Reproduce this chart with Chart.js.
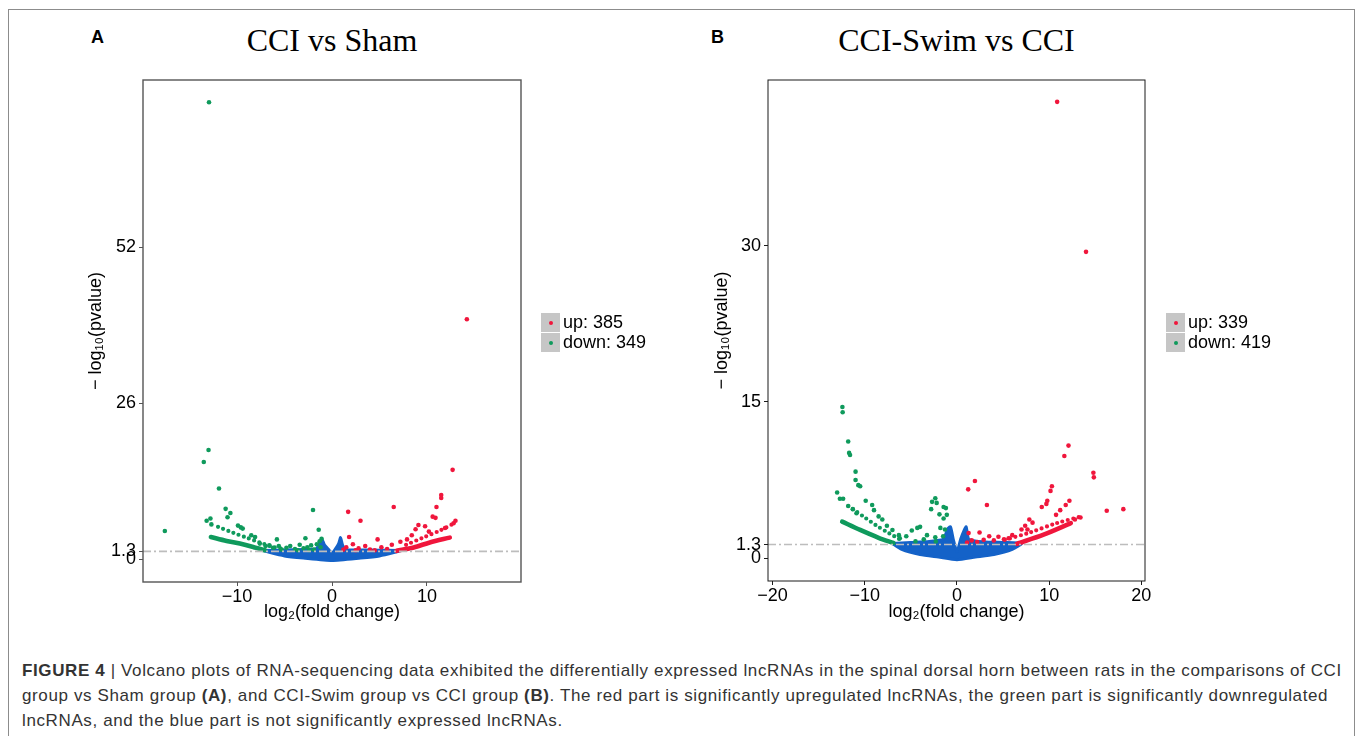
<!DOCTYPE html>
<html>
<head>
<meta charset="utf-8">
<script src="https://cdn.jsdelivr.net/npm/chart.js@4.4.1/dist/chart.umd.min.js"></script>
<style>
  body { margin: 0; background: #fff; width: 1360px; height: 736px; overflow: hidden; position: relative; font-family: "Liberation Sans", Arial, sans-serif; }
  #frame { position: absolute; left: 8px; top: 9px; width: 1345px; height: 800px; border: 1px solid #8c8c8c; }
  canvas { position: absolute; top: 0; }
  .tag { position: absolute; font: bold 18px "Liberation Sans", Arial, sans-serif; line-height: 18px; }
  .title { position: absolute; text-align: center; font: 32px "Liberation Serif", "Times New Roman", serif; line-height: 32px; color: #000; }
  .legend { position: absolute; font-size: 18px; color: #000; }
  .legend .row { height: 19px; margin-bottom: 1px; display: flex; align-items: center; white-space: nowrap; }
  .legend .key { width: 19px; height: 19px; background: #c6c6c6; position: relative; margin-right: 3px; }
  .legend .key i { position: absolute; left: 7.5px; top: 7.5px; width: 4px; height: 4px; border-radius: 2px; }
  .caption { position: absolute; left: 22px; top: 658px; font-size: 17px; letter-spacing: 0.62px; line-height: 25px; color: #333; white-space: nowrap; }
</style>
</head>
<body>
<div id="frame"></div>
<div class="tag" style="left:91px; top:28px">A</div>
<div class="tag" style="left:711px; top:28px">B</div>
<div class="title" style="left:143px; width:378px; top:24px">CCI vs Sham</div>
<div class="title" style="left:768px; width:377px; top:24px">CCI-Swim vs CCI</div>
<canvas id="chartA" width="620" height="640" style="left:0"></canvas>
<canvas id="chartB" width="700" height="640" style="left:620px"></canvas>
<div class="legend" style="left:541px; top:313px">
  <div class="row"><span class="key"><i style="background:#f0163c"></i></span>up: 385</div>
  <div class="row"><span class="key"><i style="background:#0f9a5c"></i></span>down: 349</div>
</div>
<div class="legend" style="left:1166px; top:313px">
  <div class="row"><span class="key"><i style="background:#f0163c"></i></span>up: 339</div>
  <div class="row"><span class="key"><i style="background:#0f9a5c"></i></span>down: 419</div>
</div>
<div class="caption"><b>FIGURE 4</b> | Volcano plots of RNA-sequencing data exhibited the differentially expressed lncRNAs in the spinal dorsal horn between rats in the comparisons of CCI<br>group vs Sham group <b>(A)</b>, and CCI-Swim group vs CCI group <b>(B)</b>. The red part is significantly upregulated lncRNAs, the green part is significantly downregulated<br>lncRNAs, and the blue part is not significantly expressed lncRNAs.</div>

<script>
const RED = '#f0163c';
const GREEN = '#0f9a5c';
const BLUE = '#1462c8';
const threshold = 1.3;

// ---- panel A: CCI vs Sham ----
const xRangeA = [-19.9, 19.9];
const yRangeA = [-3.8, 79.9];
const xTicksA = [-10, 0, 10];
const yTicksA = [0, 1.3, 26, 52];

const downXA = [-12.95, -13.0, -13.5, -11.9, -11.2, -10.7, -11.0, -12.8, -13.2, -12.7, -17.6, -9.9, -9.4, -9.6, -2.0, -1.4, -1.1, -8.5, -8.1, -5.8, -2.8, -3.4, -4.4, -1.3, -1.6, -2.2, -2.6, -3.0, -3.9, -4.8, -5.3, -6.2, -6.6, -7.0, -7.6, -1.9, -1.2, -5.6, -3.6, -2.4];
const downYA = [76.2, 18.2, 16.2, 11.8, 8.4, 7.7, 7.0, 6.8, 6.4, 5.8, 4.7, 5.6, 5.1, 5.3, 8.2, 4.9, 3.4, 4.0, 3.7, 3.3, 3.5, 2.4, 2.2, 3.0, 2.5, 2.3, 2.0, 1.8, 1.7, 1.9, 1.6, 1.9, 2.3, 2.2, 2.6, 1.6, 2.0, 2.2, 1.5, 1.5];
const upXA = [14.2, 1.7, 3.0, 6.5, 12.7, 11.5, 11.5, 11.0, 10.6, 10.9, 13.0, 12.8, 1.8, 4.8, 9.8, 8.8, 9.1, 2.2, 1.5, 2.8, 3.5, 4.0, 5.2, 5.8, 6.3, 7.2, 7.9, 8.4, 10.2, 11.9, 1.2, 2.5, 4.5];
const upYA = [40.0, 7.9, 6.4, 8.7, 14.9, 10.7, 10.2, 8.7, 7.1, 6.9, 6.4, 6.0, 3.7, 3.3, 5.5, 5.0, 5.7, 2.5, 2.0, 1.8, 2.2, 1.6, 2.0, 1.7, 2.4, 2.9, 3.3, 4.0, 4.6, 5.2, 1.6, 1.5, 1.5];

const downBandLoXA = [-12.75, -11.1, -9.7, -8.3, -7.05];
const downBandLoYA = [3.7, 3.05, 2.6, 2.05, 1.5];
const downBandHiXA = [-12.0, -10.4, -9.0, -7.6, -6.2, -5.1];
const downBandHiYA = [5.4, 4.4, 3.6, 2.8, 2.05, 1.7];
const upBandLoXA = [6.8, 8.6, 10.3, 12.4];
const upBandLoYA = [1.4, 1.95, 2.8, 3.6];
const upBandHiXA = [7.8, 9.6, 11.4, 13.0];
const upBandHiYA = [2.4, 3.6, 4.8, 6.1];

// outline of the dense non-significant (blue) mass
const blueXA = [-7.2, -5, -3, -1.7, -1.3, -1.05, -0.8, -0.4, 0, 0.4, 0.7, 0.9, 1.1, 1.4, 3, 5, 7.2, 6.5, 5, 3, 0, -3, -5, -6.5, -7.2];
const blueYA = [1.45, 1.55, 1.6, 1.7, 2.6, 3.3, 2.4, 1.7, 1.0, 1.8, 2.6, 3.6, 2.4, 1.6, 1.55, 1.5, 1.45, 1.1, 0.55, 0.2, -0.2, 0.2, 0.55, 1.1, 1.45];

// ---- panel B: CCI-Swim vs CCI ----
const xRangeB = [-20.5, 20.4];
const yRangeB = [-2.2, 45.9];
const xTicksB = [-20, -10, 0, 10, 20];
const yTicksB = [0, 1.3, 15, 30];

const downXB = [-12.43, -12.4, -11.8, -11.7, -11.6, -11.0, -11.0, -10.7, -10.5, -13.0, -12.7, -12.35, -9.9, -9.2, -9.0, -11.8, -11.3, -10.9, -8.5, -8.1, -7.6, -7.0, -6.3, -5.5, -4.9, -4.3, -4.0, -2.7, -2.35, -2.2, -2.8, -1.9, -1.45, -1.2, -1.1, -1.45, -3.25, -2.35, -1.8, -1.3, -3.6, -4.5, -6.2, -2.3, -1.5];
const downYB = [14.5, 14.0, 11.2, 10.1, 9.9, 8.3, 7.5, 7.0, 6.9, 6.3, 5.7, 5.7, 5.5, 5.1, 4.6, 5.0, 4.7, 4.3, 4.0, 3.7, 3.1, 2.7, 2.2, 2.1, 2.65, 2.9, 3.0, 5.4, 5.75, 5.3, 4.7, 4.2, 4.9, 4.8, 4.15, 3.8, 2.2, 2.0, 2.9, 2.75, 1.8, 1.6, 1.9, 1.6, 2.1];
const upXB = [10.87, 14.0, 14.8, 14.85, 16.25, 18.05, 12.1, 11.65, 10.3, 10.15, 9.8, 9.7, 9.2, 12.2, 11.8, 11.2, 10.75, 13.4, 12.8, 1.95, 1.22, 3.25, 7.85, 8.2, 7.4, 7.0, 7.65, 1.26, 2.45, 3.5, 4.5, 2.9, 1.6, 4.0, 5.1, 5.6, 1.1, 2.2, 6.0];
const upYB = [43.8, 29.4, 8.2, 7.75, 4.55, 4.7, 10.8, 9.8, 6.9, 6.45, 5.5, 5.2, 4.9, 5.5, 5.1, 4.6, 4.15, 3.9, 3.7, 7.4, 6.6, 5.1, 3.7, 3.4, 3.1, 2.75, 2.75, 2.4, 2.45, 2.1, 2.05, 1.75, 1.7, 1.7, 1.8, 1.9, 1.5, 1.55, 2.2];

const downBandLoXB = [-12.45, -10.5, -8.5, -6.9];
const downBandLoYB = [3.5, 2.7, 1.95, 1.45];
const downBandHiXB = [-11.3, -10.0, -8.7, -7.4, -6.2];
const downBandHiYB = [4.7, 3.9, 3.1, 2.4, 1.8];
const upBandLoXB = [6.5, 9.4, 12.35];
const upBandLoYB = [1.37, 2.25, 3.35];
const upBandHiXB = [5.2, 7.9, 10.8, 13.5];
const upBandHiYB = [1.75, 2.45, 3.35, 4.0];

const blueXB = [-7.0, -5, -3, -1.5, -1.0, -0.7, -0.4, 0, 0.4, 0.8, 1.0, 1.3, 3, 5, 7.0, 6, 4, 2, 0, -2, -4, -6, -7.0];
const blueYB = [1.4, 1.5, 1.6, 1.8, 2.8, 3.0, 1.8, 0.6, 1.8, 2.7, 3.0, 1.8, 1.55, 1.5, 1.4, 0.85, 0.35, 0.1, -0.15, 0.1, 0.35, 0.85, 1.4];

function pts(xs, ys) {
    return xs.map((x, i) => ({ x: x, y: ys[i] }));
}

function fmt(v) {
    return v < 0 ? '\u2212' + Math.abs(v) : String(v);
}

// draws the full panel box round the plot area
const frameBox = {
    id: 'frameBox',
    afterDraw(chart, args, opts) {
        const { ctx, chartArea: a } = chart;
        ctx.save();
        ctx.strokeStyle = opts.color;
        ctx.lineWidth = opts.width;
        ctx.strokeRect(a.left, a.top, a.right - a.left, a.bottom - a.top);
        ctx.restore();
    }
};

function bandLine(data, color, dotted) {
    return {
        data: data,
        showLine: true,
        pointRadius: 0,
        borderColor: color,
        borderWidth: dotted ? 4.2 : 4.6,
        borderDash: dotted ? [0, 5.5] : [],
        borderCapStyle: 'round',
        borderJoinStyle: 'round',
        tension: 0.3
    };
}

function createVolcano(id, p) {
    const ctx = document.getElementById(id).getContext('2d');
    const font = { family: '"Liberation Sans", Arial, sans-serif', size: 18 };
    return new Chart(ctx, {
        type: 'scatter',
        data: {
            datasets: [
                {
                    data: [{ x: p.xRange[0], y: threshold }, { x: p.xRange[1], y: threshold }],
                    showLine: true,
                    pointRadius: 0,
                    borderColor: '#bdbdbd',
                    borderWidth: 1.6,
                    borderDash: [8, 3, 2, 3]
                },
                { data: p.down, pointRadius: 2.3, borderWidth: 0, backgroundColor: GREEN },
                { data: p.up, pointRadius: 2.3, borderWidth: 0, backgroundColor: RED },
                bandLine(p.downLo, GREEN, false),
                bandLine(p.downHi, GREEN, true),
                bandLine(p.upLo, RED, false),
                bandLine(p.upHi, RED, true),
                {
                    data: p.blue,
                    showLine: true,
                    pointRadius: 0,
                    borderColor: BLUE,
                    borderWidth: 3,
                    backgroundColor: BLUE,
                    fill: 'shape',
                    tension: 0.2
                }
            ]
        },
        options: {
            responsive: false,
            animation: false,
            layout: { padding: { top: 80, right: p.padRight, bottom: 0, left: 0 } },
            scales: {
                x: {
                    type: 'linear',
                    min: p.xRange[0],
                    max: p.xRange[1],
                    afterBuildTicks: s => { s.ticks = p.xTicks.map(v => ({ value: v })); },
                    afterFit: s => { s.height = p.xAxisH; },
                    ticks: { callback: v => fmt(v), font: font, color: '#000', padding: 0, maxRotation: 0, autoSkip: false },
                    grid: { drawOnChartArea: false, drawTicks: true, tickLength: 4, tickColor: p.axisColor },
                    border: { display: false },
                    title: { display: true, text: 'log\u2082(fold change)', font: font, color: '#000', padding: { top: 0, bottom: 17 } }
                },
                y: {
                    type: 'linear',
                    min: p.yRange[0],
                    max: p.yRange[1],
                    afterBuildTicks: s => { s.ticks = p.yTicks.map(v => ({ value: v })); },
                    afterFit: s => { s.width = p.yAxisW; },
                    ticks: { callback: v => fmt(v), font: font, color: '#000', padding: 3, autoSkip: false },
                    grid: { drawOnChartArea: false, drawTicks: true, tickLength: 4, tickColor: p.axisColor },
                    border: { display: false },
                    title: { display: true, text: '\u2212 log\u2081\u2080(pvalue)', font: font, color: '#000', padding: { top: p.yTitlePad, bottom: 0 } }
                }
            },
            plugins: {
                legend: { display: false },
                tooltip: { enabled: false },
                frameBox: { color: p.axisColor, width: p.axisWidth }
            }
        },
        plugins: [frameBox]
    });
}

createVolcano('chartA', {
    xRange: xRangeA, yRange: yRangeA, xTicks: xTicksA, yTicks: yTicksA,
    down: pts(downXA, downYA), up: pts(upXA, upYA),
    downLo: pts(downBandLoXA, downBandLoYA), downHi: pts(downBandHiXA, downBandHiYA),
    upLo: pts(upBandLoXA, upBandLoYA), upHi: pts(upBandHiXA, upBandHiYA),
    blue: pts(blueXA, blueYA),
    padRight: 99, xAxisH: 58, yAxisW: 143, yTitlePad: 85,
    axisColor: '#555', axisWidth: 1.4
});

createVolcano('chartB', {
    xRange: xRangeB, yRange: yRangeB, xTicks: xTicksB, yTicks: yTicksB,
    down: pts(downXB, downYB), up: pts(upXB, upYB),
    downLo: pts(downBandLoXB, downBandLoYB), downHi: pts(downBandHiXB, downBandHiYB),
    upLo: pts(upBandLoXB, upBandLoYB), upHi: pts(upBandHiXB, upBandHiYB),
    blue: pts(blueXB, blueYB),
    padRight: 175, xAxisH: 59, yAxisW: 148, yTitlePad: 91,
    axisColor: '#1a1a1a', axisWidth: 1
});
</script>
</body>
</html>
